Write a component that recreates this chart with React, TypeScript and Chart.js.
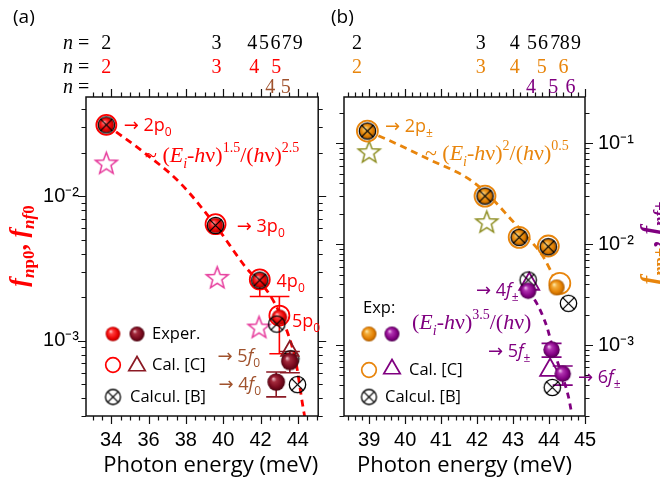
import React, { useEffect, useRef } from 'react';
import { Chart, registerables } from 'chart.js';
Chart.register(...registerables);

const SANS = '"Open Sans", "DejaVu Sans", sans-serif';
const SERIF = '"Liberation Serif", "DejaVu Serif", serif';
const TICKF = '"Liberation Sans", Arial, sans-serif';

const RED = '#ff0000';
const BROWN = '#a0522d';
const MAROON = '#8b1a24';
const MAGENTA = '#e6399b';
const ORANGE = '#e8850c';
const OLIVE = '#8e8e22';
const PURPLE = '#800080';

// ---------- axes ----------
const A_X_MIN = 32.65, A_X_MAX = 45.09;
const A_Y_MIN = 3.07e-4, A_Y_MAX = 0.0487;
const A_X_TICKS = [34, 36, 38, 40, 42, 44];
const A_Y_TICKS = [1e-3, 1e-2];
const B_X_MIN = 38.3, B_X_MAX = 45.0;
const B_Y_MIN = 1.98e-4, B_Y_MAX = 0.288;
const B_X_TICKS = [39, 40, 41, 42, 43, 44, 45];
const B_Y_TICKS = [1e-3, 1e-2, 1e-1];

// ---------- panel (a) data ----------
const A_P0_E = [33.74, 39.59, 41.96, 43.01];
const A_P0_F = [0.0312, 0.00628, 0.00262, 0.00145];
const A_P0_LO = [null, null, 0.00202, 0.00081];
const A_P0_HI = [null, null, null, 0.00202];
const A_P0C_E = [33.74, 39.59, 41.96, 43.01];
const A_P0C_F = [0.0312, 0.0064, 0.00265, 0.00149];
const A_B_E = [33.74, 39.59, 41.96, 42.87, 43.62, 43.98];
const A_B_F = [0.0312, 0.00628, 0.00262, 0.0013, 0.000748, 0.000495];
const A_F0_E = [42.84, 43.57];
const A_F0_F = [0.000516, 0.000716];
const A_F0_LO = [0.000407, 0.000598];
const A_F0_HI = [0.000605, 0.00084];
const A_F0C_E = [43.57];
const A_F0C_F = [0.00085];
const A_STAR_E = [33.74, 39.68, 41.92];
const A_STAR_F = [0.017, 0.00274, 0.00124];
const A_FIT_E = [33.74, 35.8, 37.69, 39.59, 41.15, 42.53, 43.38, 43.89, 44.26, 44.4];
const A_FIT_F = [0.0312, 0.0199, 0.01237, 0.00628, 0.00329, 0.00204, 0.0012, 0.000713, 0.000356, 0.00028];
// level rows (n =)
const A_N1_E = [33.74, 39.645, 41.56, 42.18, 42.8, 43.4, 44.0];
const A_N1_L = ['2', '3', '4', '5', '6', '7', '9'];
const A_N2_E = [33.74, 39.645, 41.67, 42.84];
const A_N2_L = ['2', '3', '4', '5'];
const A_N3_E = [42.52, 43.35];
const A_N3_L = ['4', '5'];

// ---------- panel (b) data ----------
const B_P_E = [38.95, 42.22, 43.17, 43.98, 44.21];
const B_P_F = [0.1324, 0.03, 0.0117, 0.00944, 0.00373];
const B_PC_E = [38.95, 42.22, 43.17, 43.98, 44.3];
const B_PC_F = [0.1324, 0.03, 0.0117, 0.0096, 0.00409];
const B_B_E = [38.95, 42.22, 43.17, 43.98, 44.54, 43.42, 44.09];
const B_B_F = [0.1324, 0.03, 0.0117, 0.00944, 0.00259, 0.00441, 0.00038];
const B_F_E = [43.42, 44.07, 44.38];
const B_F_F = [0.003455, 0.0009, 0.00052];
const B_F_LO = [null, 0.00076, 0.000401];
const B_F_HI = [null, 0.00104, 0.00062];
const B_FC_E = [43.45, 44.03];
const B_FC_F = [0.00403, 0.000565];
const B_STAR_E = [39.0, 42.27];
const B_STAR_F = [0.0826, 0.0167];
const B_FITP_E = [38.95, 39.49, 40.6, 41.8, 42.36, 42.96, 43.38, 43.84, 44.11];
const B_FITP_F = [0.1324, 0.1096, 0.071, 0.0437, 0.0296, 0.0174, 0.0119, 0.0075, 0.0049];
const B_FITF_E = [43.42, 43.66, 43.94, 44.07, 44.31, 44.54, 44.63];
const B_FITF_F = [0.003455, 0.00259, 0.00152, 0.00104, 0.000566, 0.000307, 0.00021];
const B_N1_E = [38.66, 42.1, 43.05, 43.53, 43.83, 44.17, 44.44, 44.75];
const B_N1_L = ['2', '3', '4', '5', '6', '7', '8', '9'];
const B_N2_E = [38.66, 42.1, 43.05, 43.8, 44.4];
const B_N2_L = ['2', '3', '4', '5', '6'];
const B_N3_E = [43.5, 44.12, 44.6];
const B_N3_L = ['4', '5', '6'];

// ---------- helpers ----------
const pts = (E: number[], F: number[]) => E.map((x, i) => ({ x, y: F[i] }));

type Seg = { t: string; it?: boolean; b?: boolean; sub?: boolean; sup?: boolean; c?: string; f?: string };

function segFont(s: Seg, size: number, fam: string) {
  const sz = s.sub || s.sup ? Math.round(size * 0.64) : size;
  return `${s.it ? 'italic ' : ''}${s.b ? 'bold ' : ''}${sz}px ${s.f || fam}`;
}
function richWidth(ctx: CanvasRenderingContext2D, segs: Seg[], size: number, fam: string) {
  let w = 0;
  for (const s of segs) { ctx.font = segFont(s, size, fam); w += ctx.measureText(s.t).width; }
  return w;
}
function drawRich(ctx: CanvasRenderingContext2D, segs: Seg[], x: number, baseY: number, size: number, fam: string, color: string, align: 'left' | 'center' = 'left') {
  let cx = x;
  if (align === 'center') cx -= richWidth(ctx, segs, size, fam) / 2;
  ctx.textBaseline = 'alphabetic';
  ctx.textAlign = 'left';
  for (const s of segs) {
    ctx.font = segFont(s, size, fam);
    ctx.fillStyle = s.c || color;
    const dy = s.sub ? size * 0.28 : s.sup ? -size * 0.45 : 0;
    ctx.fillText(s.t, cx, baseY + dy);
    cx += ctx.measureText(s.t).width;
  }
}

function ball(r: number, c0: string, c1: string, c2: string, c3: string) {
  const c = document.createElement('canvas');
  const s = Math.ceil(r * 2 + 2);
  c.width = s; c.height = s;
  const g = c.getContext('2d')!;
  const m = s / 2;
  const grad = g.createRadialGradient(m - r * 0.35, m - r * 0.4, 0, m, m, r);
  grad.addColorStop(0, c0);
  grad.addColorStop(0.3, c1);
  grad.addColorStop(0.75, c2);
  grad.addColorStop(1, c3);
  g.fillStyle = grad;
  g.beginPath(); g.arc(m, m, r, 0, Math.PI * 2); g.fill();
  return c;
}
function crossed(r: number) {
  const c = document.createElement('canvas');
  const s = Math.ceil(r * 2 + 4);
  c.width = s; c.height = s;
  const g = c.getContext('2d')!;
  const m = s / 2;
  g.strokeStyle = '#000'; g.lineWidth = 1.3;
  g.beginPath(); g.arc(m, m, r, 0, Math.PI * 2); g.stroke();
  const d = r * 0.72;
  g.beginPath();
  g.moveTo(m - d, m - d); g.lineTo(m + d, m + d);
  g.moveTo(m + d, m - d); g.lineTo(m - d, m + d);
  g.stroke();
  return c;
}
function star(R: number, color: string) {
  const c = document.createElement('canvas');
  const s = Math.ceil(R * 2 + 4);
  c.width = s; c.height = s;
  const g = c.getContext('2d')!;
  const m = s / 2;
  const ri = R * 0.42;
  g.strokeStyle = color; g.lineWidth = 1.5; g.lineJoin = 'miter';
  g.beginPath();
  for (let k = 0; k < 10; k++) {
    const a = -Math.PI / 2 + (k * Math.PI) / 5;
    const rr = k % 2 === 0 ? R : ri;
    const px = m + rr * Math.cos(a), py = m + 1 + rr * Math.sin(a);
    if (k === 0) g.moveTo(px, py); else g.lineTo(px, py);
  }
  g.closePath(); g.stroke();
  return c;
}

function makeMarkers() {
  return {
    redBall: ball(7.8, '#ffe4e4', '#ff3c3c', '#e80000', '#a80000'),
    redBallL: ball(7.3, '#ffe4e4', '#ff3c3c', '#e80000', '#a80000'),
    maroonBall: ball(8.8, '#f6d0d8', '#a32a3c', '#76081c', '#4a0410'),
    maroonBallL: ball(7.5, '#f6d0d8', '#a32a3c', '#76081c', '#4a0410'),
    orangeBall: ball(8, '#fff4c0', '#f3ad3c', '#e27e00', '#a85a00'),
    orangeBallL: ball(7.5, '#fff4c0', '#f3ad3c', '#e27e00', '#a85a00'),
    purpleBall: ball(8.2, '#f8d4f8', '#b032b0', '#820082', '#4e004e'),
    purpleBallL: ball(7.5, '#f8d4f8', '#b032b0', '#820082', '#4e004e'),
    crossed: crossed(8.2),
    crossedL: crossed(7.5),
    starM: star(11.5, MAGENTA),
    starO: star(11.5, OLIVE),
  };
}

const SUP: Record<string, string> = { '-': '⁻', '0': '⁰', '1': '¹', '2': '²', '3': '³', '4': '⁴', '5': '⁵', '6': '⁶', '7': '⁷', '8': '⁸', '9': '⁹' };
function pow10Label(v: number) {
  const e = Math.round(Math.log10(v));
  return '10' + String(e).split('').map((ch) => SUP[ch]).join('');
}

type Note = { x: number; y: number; segs: Seg[]; size: number; fam: string; color: string; mid: boolean };
type Row = { E: number[]; L: string[]; color: string; base: number };
type LegendItem = { kind: string; x: number; y: number; color?: string; r?: number };
type LegendText = { t: string; x: number; y: number };

type PanelCfg = {
  id: string;
  xStep: number;
  xMajor: number;
  notes: Note[];
  rows: Row[];
  nPrefixX: number | null;
  panelLabel: { t: string; x: number; y: number };
  legendItems: LegendItem[];
  legendTexts: LegendText[];
  yTitle: { segs: Seg[]; x: number; y: number };
};

function makeDecor(p: PanelCfg, M: any) {
  return {
    id: 'decor_' + p.id,
    beforeDatasetsDraw(chart: any) {
      const ctx: CanvasRenderingContext2D = chart.ctx;
      const xs = chart.scales.x, ys = chart.scales.y;
      ctx.save();
      chart.data.datasets.forEach((ds: any) => {
        if (!ds.errLo) return;
        ds.data.forEach((d: any, i: number) => {
          const lo = ds.errLo[i], hi = ds.errHi[i];
          if (lo == null && hi == null) return;
          const px = xs.getPixelForValue(d.x);
          const pv = ys.getPixelForValue(d.y);
          const pl = lo == null ? pv : ys.getPixelForValue(lo);
          const ph = hi == null ? pv : ys.getPixelForValue(hi);
          ctx.strokeStyle = ds.errColor; ctx.lineWidth = 1.6;
          ctx.beginPath();
          ctx.moveTo(px, ph); ctx.lineTo(px, pl);
          if (hi != null) { ctx.moveTo(px - 10, ph); ctx.lineTo(px + 10, ph); }
          if (lo != null) { ctx.moveTo(px - 10, pl); ctx.lineTo(px + 10, pl); }
          ctx.stroke();
        });
      });
      ctx.restore();
    },
    afterDraw(chart: any) {
      const ctx: CanvasRenderingContext2D = chart.ctx;
      const xs = chart.scales.x, ys = chart.scales.y;
      const { left, right, top, bottom } = chart.chartArea;
      ctx.save();
      // frame
      ctx.strokeStyle = '#111'; ctx.lineWidth = 1.5;
      ctx.strokeRect(left, top, right - left, bottom - top);
      // ticks
      ctx.lineWidth = 1.2;
      ctx.beginPath();
      const k0 = Math.ceil(xs.min / p.xStep - 1e-6), k1 = Math.floor(xs.max / p.xStep + 1e-6);
      for (let k = k0; k <= k1; k++) {
        const v = k * p.xStep;
        const px = Math.round(xs.getPixelForValue(v)) + 0.5;
        const r = v / p.xMajor;
        const L = Math.abs(r - Math.round(r)) < 1e-6 ? 8 : 4.5;
        ctx.moveTo(px, bottom); ctx.lineTo(px, bottom + L);
        ctx.moveTo(px, top); ctx.lineTo(px, top - L);
      }
      const e0 = Math.floor(Math.log10(ys.min)), e1 = Math.ceil(Math.log10(ys.max));
      for (let e = e0; e <= e1; e++) {
        for (let s = 1; s <= 9; s++) {
          const v = s * Math.pow(10, e);
          if (v < ys.min || v > ys.max) continue;
          const py = Math.round(ys.getPixelForValue(v)) + 0.5;
          const L = s === 1 ? 8 : 4.5;
          ctx.moveTo(left - L, py); ctx.lineTo(left, py);
          ctx.moveTo(right, py); ctx.lineTo(right + L, py);
        }
      }
      ctx.stroke();

      // annotations
      for (const n of p.notes) {
        const px = xs.getPixelForValue(n.x);
        const py = ys.getPixelForValue(n.y);
        drawRich(ctx, n.segs, px, n.mid ? py + n.size * 0.36 : py, n.size, n.fam, n.color);
      }
      // n = rows
      for (const row of p.rows) {
        if (p.nPrefixX != null) {
          drawRich(ctx, [{ t: 'n', it: true }, { t: ' =' }], p.nPrefixX, row.base, 20, SERIF, '#000');
        }
        ctx.font = `20px ${SERIF}`;
        ctx.fillStyle = row.color; ctx.textAlign = 'center'; ctx.textBaseline = 'alphabetic';
        row.E.forEach((E, i) => ctx.fillText(row.L[i], xs.getPixelForValue(E), row.base));
      }
      // panel label
      ctx.font = `19px ${SANS}`; ctx.fillStyle = '#000'; ctx.textAlign = 'left'; ctx.textBaseline = 'alphabetic';
      ctx.fillText(p.panelLabel.t, p.panelLabel.x, p.panelLabel.y);
      // legend
      for (const it of p.legendItems) {
        const img = (M as any)[it.kind];
        if (img) { ctx.drawImage(img, it.x - img.width / 2, it.y - img.height / 2); continue; }
        ctx.strokeStyle = it.color!; ctx.lineWidth = 1.7;
        ctx.beginPath();
        if (it.kind === 'ring') {
          ctx.arc(it.x, it.y, it.r!, 0, Math.PI * 2);
        } else if (it.kind === 'tri') {
          const r = it.r!;
          ctx.moveTo(it.x, it.y - r);
          ctx.lineTo(it.x + r * Math.sin((2 * Math.PI) / 3), it.y + r / 2);
          ctx.lineTo(it.x - r * Math.sin((2 * Math.PI) / 3), it.y + r / 2);
          ctx.closePath();
        }
        ctx.stroke();
      }
      ctx.font = `16.5px ${SANS}`; ctx.fillStyle = '#000'; ctx.textAlign = 'left'; ctx.textBaseline = 'middle';
      for (const t of p.legendTexts) ctx.fillText(t.t, t.x, t.y);
      // y title
      ctx.translate(p.yTitle.x, p.yTitle.y);
      ctx.rotate(-Math.PI / 2);
      drawRich(ctx, p.yTitle.segs, 0, 0, 26, SERIF, RED, 'center');
      ctx.restore();
    },
  };
}

const FORM_A: Seg[] = [
  { t: '~ (' }, { t: 'E', it: true }, { t: 'i', it: true, sub: true }, { t: '-' }, { t: 'h', it: true }, { t: 'ν' }, { t: ')' },
  { t: '1.5', sup: true }, { t: '/(' }, { t: 'h', it: true }, { t: 'ν' }, { t: ')' }, { t: '2.5', sup: true },
];
const FORM_BP: Seg[] = [
  { t: '~ (' }, { t: 'E', it: true }, { t: 'i', it: true, sub: true }, { t: '-' }, { t: 'h', it: true }, { t: 'ν' }, { t: ')' },
  { t: '2', sup: true }, { t: '/(' }, { t: 'h', it: true }, { t: 'ν' }, { t: ')' }, { t: '0.5', sup: true },
];
const FORM_BF: Seg[] = [
  { t: '(' }, { t: 'E', it: true }, { t: 'i', it: true, sub: true }, { t: '-' }, { t: 'h', it: true }, { t: 'ν' }, { t: ')' },
  { t: '3.5', sup: true }, { t: '/(' }, { t: 'h', it: true }, { t: 'ν' }, { t: ')' },
];

const PANEL_A: PanelCfg = {
  id: 'a', xStep: 0.5, xMajor: 2,
  notes: [
    { x: 34.67, y: 0.0312, segs: [{ t: '→ 2p' }, { t: '0', sub: true }], size: 18, fam: SANS, color: RED, mid: true },
    { x: 35.81, y: 0.01735, segs: FORM_A, size: 22, fam: SERIF, color: RED, mid: false },
    { x: 40.73, y: 0.00628, segs: [{ t: '→ 3p' }, { t: '0', sub: true }], size: 18, fam: SANS, color: RED, mid: true },
    { x: 42.86, y: 0.00262, segs: [{ t: '4p' }, { t: '0', sub: true }], size: 18, fam: SANS, color: RED, mid: true },
    { x: 43.69, y: 0.001367, segs: [{ t: '5p' }, { t: '0', sub: true }], size: 18, fam: SANS, color: RED, mid: true },
    { x: 39.7, y: 0.000784, segs: [{ t: '→ 5' }, { t: 'f', it: true }, { t: '0', sub: true }], size: 18, fam: SANS, color: BROWN, mid: true },
    { x: 39.75, y: 0.000503, segs: [{ t: '→ 4' }, { t: 'f', it: true }, { t: '0', sub: true }], size: 18, fam: SANS, color: BROWN, mid: true },
  ],
  rows: [
    { E: A_N1_E, L: A_N1_L, color: '#000', base: 49 },
    { E: A_N2_E, L: A_N2_L, color: RED, base: 72.5 },
    { E: A_N3_E, L: A_N3_L, color: BROWN, base: 93 },
  ],
  nPrefixX: 63,
  panelLabel: { t: '(a)', x: 13, y: 23 },
  legendItems: [
    { kind: 'redBallL', x: 113, y: 334 },
    { kind: 'maroonBallL', x: 137, y: 334 },
    { kind: 'ring', x: 113, y: 365, r: 7.3, color: RED },
    { kind: 'tri', x: 137, y: 366, r: 9.5, color: MAROON },
    { kind: 'crossedL', x: 113, y: 397 },
  ],
  legendTexts: [
    { t: 'Exper.', x: 152, y: 334 },
    { t: 'Cal. [C]', x: 152, y: 365 },
    { t: 'Calcul. [B]', x: 130, y: 397 },
  ],
  yTitle: {
    x: 27, y: 246,
    segs: [
      { t: 'f', it: true, b: true }, { t: 'n', it: true, b: true, sub: true }, { t: 'p0', b: true, sub: true },
      { t: ', ', b: true }, { t: 'f', it: true, b: true }, { t: 'nf', it: true, b: true, sub: true }, { t: '0', b: true, sub: true },
    ],
  },
};

const PANEL_B: PanelCfg = {
  id: 'b', xStep: 0.2, xMajor: 1,
  notes: [
    { x: 39.44, y: 0.1519, segs: [{ t: '→ 2p' }, { t: '±', sub: true }], size: 18, fam: SANS, color: ORANGE, mid: true },
    { x: 40.55, y: 0.0683, segs: FORM_BP, size: 22, fam: SERIF, color: ORANGE, mid: false },
    { x: 41.97, y: 0.003592, segs: [{ t: '→ 4' }, { t: 'f', it: true }, { t: '±', sub: true }], size: 18, fam: SANS, color: PURPLE, mid: true },
    { x: 40.19, y: 0.00144, segs: FORM_BF, size: 22, fam: SERIF, color: PURPLE, mid: false },
    { x: 42.3, y: 0.000892, segs: [{ t: '→ 5' }, { t: 'f', it: true }, { t: '±', sub: true }], size: 18, fam: SANS, color: PURPLE, mid: true },
    { x: 44.805, y: 0.000493, segs: [{ t: '→ 6' }, { t: 'f', it: true }, { t: '±', sub: true }], size: 18, fam: SANS, color: PURPLE, mid: true },
  ],
  rows: [
    { E: B_N1_E, L: B_N1_L, color: '#000', base: 49 },
    { E: B_N2_E, L: B_N2_L, color: ORANGE, base: 72.5 },
    { E: B_N3_E, L: B_N3_L, color: PURPLE, base: 93 },
  ],
  nPrefixX: null,
  panelLabel: { t: '(b)', x: 1, y: 23 },
  legendItems: [
    { kind: 'orangeBallL', x: 39, y: 334 },
    { kind: 'purpleBallL', x: 62, y: 334 },
    { kind: 'ring', x: 39, y: 370, r: 7.3, color: ORANGE },
    { kind: 'tri', x: 62, y: 369, r: 9.5, color: PURPLE },
    { kind: 'crossedL', x: 39, y: 397 },
  ],
  legendTexts: [
    { t: 'Exp:', x: 33, y: 308 },
    { t: 'Cal. [C]', x: 79, y: 370 },
    { t: 'Calcul. [B]', x: 55, y: 397 },
  ],
  yTitle: {
    x: 328, y: 243,
    segs: [
      { t: 'f', it: true, b: true, c: ORANGE }, { t: 'n', it: true, b: true, sub: true, c: ORANGE }, { t: 'p±', b: true, sub: true, c: ORANGE },
      { t: ', ', b: true, c: PURPLE }, { t: 'f', it: true, b: true, c: PURPLE }, { t: 'nf', it: true, b: true, sub: true, c: PURPLE }, { t: '±', b: true, sub: true, c: PURPLE },
    ],
  },
};

function scatterSet(label: string, data: any[], style: any, order: number, extra: any = {}) {
  return { label, data, pointStyle: style, pointRadius: 8, pointHoverRadius: 8, showLine: false, order, ...extra };
}
function ringSet(label: string, data: any[], color: string, r: number, style: string, order: number) {
  return {
    label, data, pointStyle: style, pointRadius: r, pointHoverRadius: r, pointBorderWidth: 1.8,
    pointBorderColor: color, pointBackgroundColor: 'rgba(0,0,0,0)', showLine: false, order,
  };
}
function fitSet(label: string, data: any[], color: string, dash: number[], order: number) {
  return {
    type: 'line', label, data, borderColor: color, borderWidth: 2.8, borderDash: dash, pointRadius: 0,
    cubicInterpolationMode: 'monotone', fill: false, order,
  };
}

function baseOptions(xMin: number, xMax: number, yMin: number, yMax: number, xTicks: number[], yTicks: number[], yPos: 'left' | 'right', yWidth: number, yPad: number, padding: any, titleAlign: string) {
  return {
    responsive: false,
    animation: false,
    events: [],
    layout: { padding },
    plugins: { legend: { display: false }, tooltip: { enabled: false } },
    scales: {
      x: {
        type: 'linear', position: 'bottom', min: xMin, max: xMax,
        afterBuildTicks: (s: any) => { s.ticks = xTicks.map((v) => ({ value: v })); },
        afterFit: (s: any) => { s.height = 71; },
        grid: { display: false, drawTicks: false },
        border: { display: false },
        ticks: { autoSkip: false, maxRotation: 0, padding: 12, color: '#000', font: { family: TICKF, size: 20 }, callback: (v: any) => String(v) },
        title: { display: true, text: 'Photon energy (meV)', align: titleAlign, color: '#000', font: { family: SANS, size: 22 }, padding: { top: 0, bottom: 8 } },
      },
      y: {
        type: 'logarithmic', position: yPos, min: yMin, max: yMax,
        afterBuildTicks: (s: any) => { s.ticks = yTicks.map((v) => ({ value: v })); },
        afterFit: (s: any) => { s.width = yWidth; },
        grid: { display: false, drawTicks: false },
        border: { display: false },
        ticks: { autoSkip: false, padding: yPad, color: '#000', font: { family: TICKF, size: 20 }, callback: (v: any) => pow10Label(Number(v)) },
      },
    },
  };
}

export default function App() {
  const refA = useRef<HTMLCanvasElement>(null);
  const refB = useRef<HTMLCanvasElement>(null);
  useEffect(() => {
    const M = makeMarkers();
    const chA = new Chart(refA.current as HTMLCanvasElement, {
      type: 'scatter',
      data: {
        datasets: [
          fitSet('fit p0', pts(A_FIT_E, A_FIT_F), RED, [7, 5], 30),
          scatterSet('stars', pts(A_STAR_E, A_STAR_F), M.starM, 28),
          ringSet('Cal. [C] p0', pts(A_P0C_E, A_P0C_F), RED, 10, 'circle', 26),
          scatterSet('Exper. p0', pts(A_P0_E, A_P0_F), M.redBall, 24, { errLo: A_P0_LO, errHi: A_P0_HI, errColor: RED }),
          scatterSet('Calcul. [B]', pts(A_B_E, A_B_F), M.crossed, 22),
          ringSet('Cal. [C] f0', pts(A_F0C_E, A_F0C_F), MAROON, 10, 'triangle', 20),
          scatterSet('Exper. f0', pts(A_F0_E, A_F0_F), M.maroonBall, 18, { errLo: A_F0_LO, errHi: A_F0_HI, errColor: MAROON }),
        ] as any,
      },
      options: baseOptions(A_X_MIN, A_X_MAX, A_Y_MIN, A_Y_MAX, A_X_TICKS, A_Y_TICKS, 'left', 86, 7, { top: 97, right: 4, bottom: 0, left: 0 }, 'end') as any,
      plugins: [makeDecor(PANEL_A, M) as any],
    });
    const chB = new Chart(refB.current as HTMLCanvasElement, {
      type: 'scatter',
      data: {
        datasets: [
          fitSet('fit p±', pts(B_FITP_E, B_FITP_F), ORANGE, [7, 5], 30),
          fitSet('fit f±', pts(B_FITF_E, B_FITF_F), PURPLE, [6, 5], 29),
          scatterSet('stars', pts(B_STAR_E, B_STAR_F), M.starO, 28),
          ringSet('Cal. [C] p±', pts(B_PC_E, B_PC_F), ORANGE, 10.5, 'circle', 26),
          scatterSet('Exp p±', pts(B_P_E, B_P_F), M.orangeBall, 24),
          ringSet('Cal. [C] f±', pts(B_FC_E, B_FC_F), PURPLE, 11.5, 'triangle', 23),
          scatterSet('Calcul. [B]', pts(B_B_E, B_B_F), M.crossed, 22),
          scatterSet('Exp f±', pts(B_F_E, B_F_F), M.purpleBall, 18, { errLo: B_F_LO, errHi: B_F_HI, errColor: PURPLE }),
        ] as any,
      },
      options: baseOptions(B_X_MIN, B_X_MAX, B_Y_MIN, B_Y_MAX, B_X_TICKS, B_Y_TICKS, 'right', 75, 13, { top: 97, right: 0, bottom: 0, left: 14 }, 'center') as any,
      plugins: [makeDecor(PANEL_B, M) as any],
    });
    return () => { chA.destroy(); chB.destroy(); };
  }, []);
  return (
    <div style={{ position: 'absolute', left: 0, top: 0, width: 660, height: 487, background: '#fff', overflow: 'hidden' }}>
      <canvas ref={refA} width={330} height={487} style={{ position: 'absolute', left: 0, top: 0, width: 330, height: 487 }} />
      <canvas ref={refB} width={330} height={487} style={{ position: 'absolute', left: 330, top: 0, width: 330, height: 487 }} />
    </div>
  );
}
